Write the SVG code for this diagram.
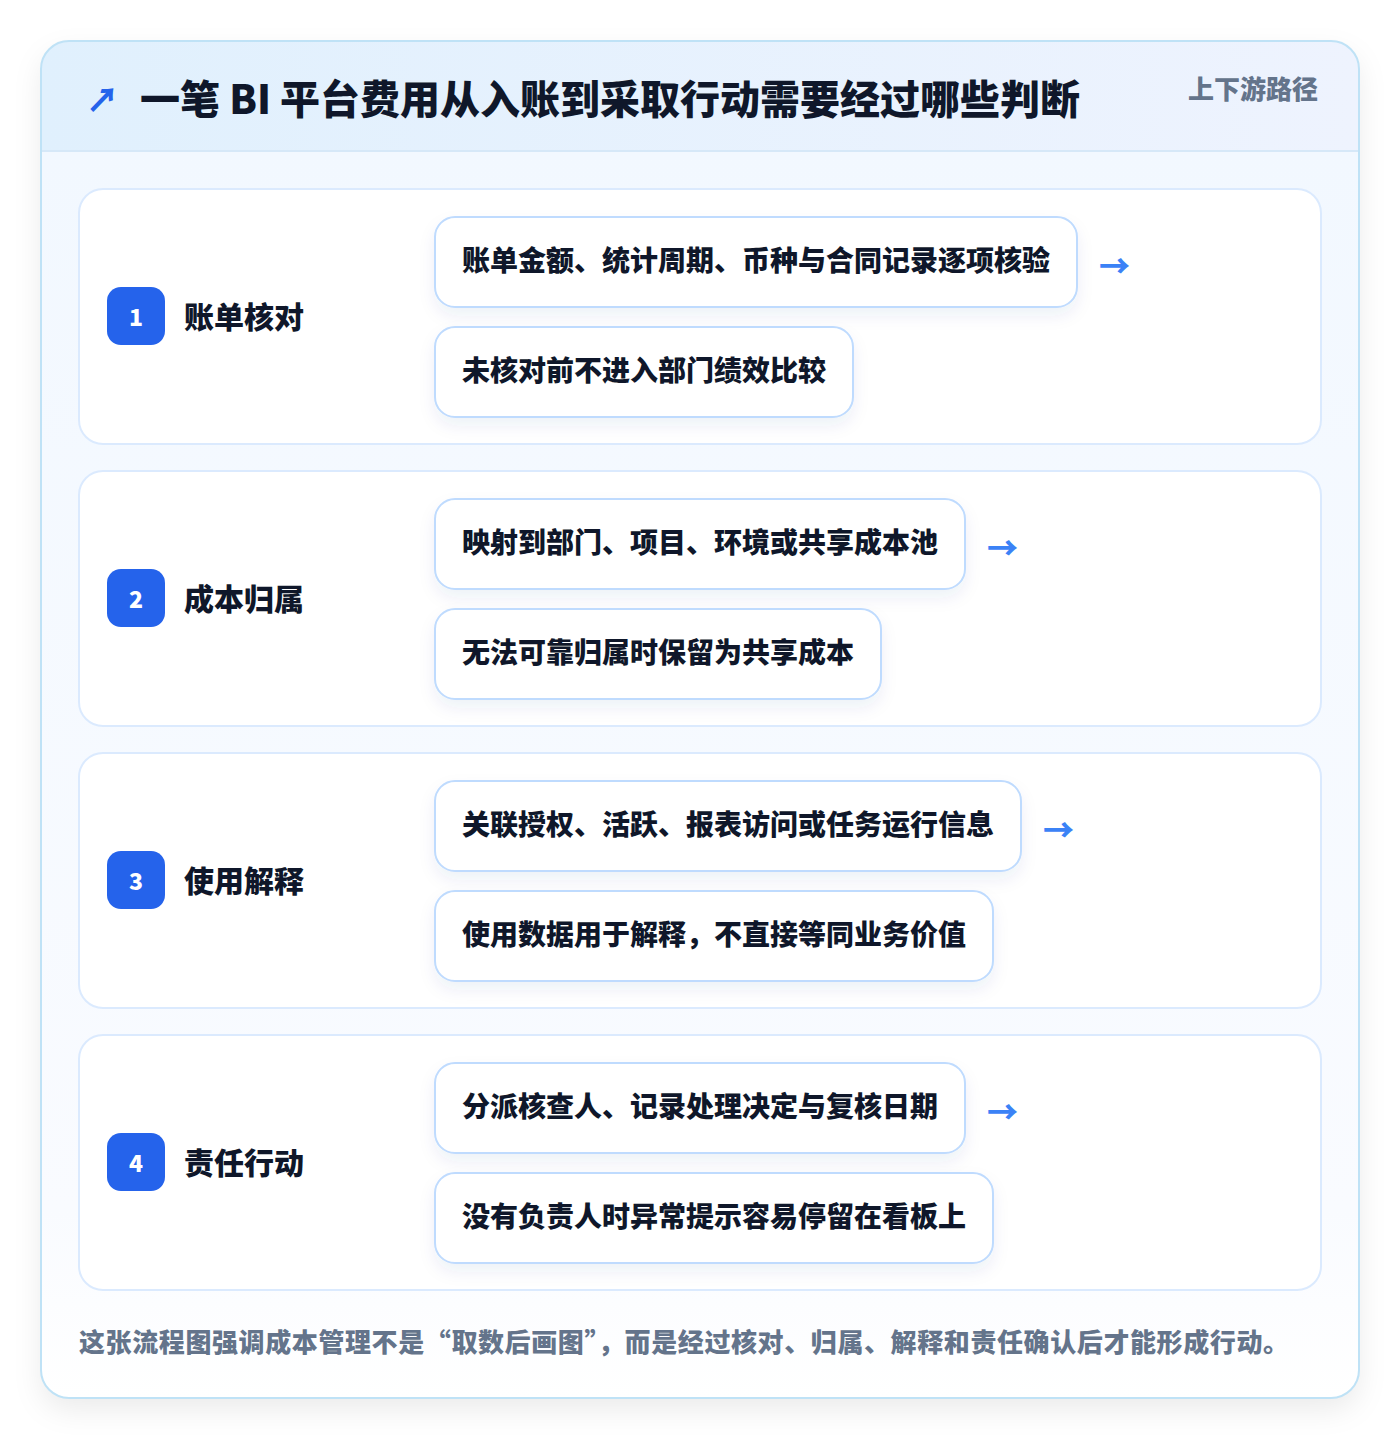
<svg xmlns="http://www.w3.org/2000/svg" width="1400" height="1440" viewBox="0 0 1400 1440">
<defs>
<linearGradient id="hdr" x1="0" y1="0" x2="1" y2="0"><stop offset="0" stop-color="#e0f0fd"/><stop offset="1" stop-color="#eef3fe"/></linearGradient>
<linearGradient id="body" x1="0" y1="0" x2="0" y2="1"><stop offset="0" stop-color="#f2f8ff"/><stop offset="0.85" stop-color="#f9fbff"/><stop offset="1" stop-color="#ffffff"/></linearGradient>
<filter id="outerSh" x="-10%" y="-10%" width="120%" height="120%"><feDropShadow dx="0" dy="12" stdDeviation="14" flood-color="#0f172a" flood-opacity="0.08"/></filter>
<filter id="boxSh" x="-10%" y="-30%" width="120%" height="170%"><feDropShadow dx="0" dy="8" stdDeviation="8" flood-color="#1e3a8a" flood-opacity="0.07"/></filter>
<clipPath id="outerClip"><rect x="41" y="41" width="1318" height="1357" rx="28"/></clipPath>
</defs>
<style>
.title{font-family:"Noto Sans CJK SC","Noto Sans",sans-serif;font-weight:900;font-size:40px;fill:#0f172a}
.tag{font-family:"Noto Sans CJK SC",sans-serif;font-weight:900;font-size:26px;fill:#64748b}
.stage{fill:#ffffff;stroke:#dbeafe;stroke-width:2}
.badge{fill:#2563eb}
.num{font-family:"Noto Sans CJK SC","Noto Sans",sans-serif;font-weight:900;font-size:23px;fill:#ffffff;text-anchor:middle}
.label{font-family:"Noto Sans CJK SC",sans-serif;font-weight:900;font-size:30px;fill:#0f172a}
.item{fill:#ffffff;stroke:#bfdbfe;stroke-width:2}
.itext{font-family:"Noto Sans CJK SC",sans-serif;font-weight:900;font-size:28px;fill:#0f172a}
.arrow{font-family:"Noto Sans CJK SC","DejaVu Sans",sans-serif;font-weight:900;font-size:31px;fill:#3b82f6}
.foot{font-family:"Noto Sans CJK SC",sans-serif;font-weight:900;font-size:26px;fill:#64748b;letter-spacing:0.6px}
</style>
<rect width="1400" height="1440" fill="#ffffff"/>
<g id="frame">
<rect x="41" y="41" width="1318" height="1357" rx="28" fill="#ffffff" filter="url(#outerSh)"/>
<g clip-path="url(#outerClip)">
<rect x="41" y="151" width="1318" height="1247" fill="url(#body)"/>
<rect x="41" y="41" width="1318" height="110" fill="url(#hdr)"/>
<line x1="41" y1="151" x2="1359" y2="151" stroke="#d6e8f8" stroke-width="2"/>
</g>
<rect x="41" y="41" width="1318" height="1357" rx="28" fill="none" stroke="#bfe2f6" stroke-width="2"/>
</g>
<g id="header">
<text x="86" y="112" class="arrow" style="font-size:33px;fill:#2563eb">↗</text>
<text x="140" y="114" class="title">一笔 BI 平台费用从入账到采取行动需要经过哪些判断</text>
<text x="1318" y="99" class="tag" text-anchor="end">上下游路径</text>
</g>
<g id="stage1">
<rect x="79" y="189" width="1242" height="255" rx="24" class="stage"/>
<rect x="107" y="287" width="58" height="58" rx="14" class="badge"/>
<text x="136" y="326" class="num">1</text>
<text x="184" y="328" class="label">账单核对</text>
<rect x="435" y="217" width="642" height="90" rx="20" class="item" filter="url(#boxSh)"/>
<text x="462" y="271" class="itext">账单金额、统计周期、币种与合同记录逐项核验</text>
<rect x="435" y="327" width="418" height="90" rx="20" class="item" filter="url(#boxSh)"/>
<text x="462" y="381" class="itext">未核对前不进入部门绩效比较</text>
</g>
<g id="stage2">
<rect x="79" y="471" width="1242" height="255" rx="24" class="stage"/>
<rect x="107" y="569" width="58" height="58" rx="14" class="badge"/>
<text x="136" y="608" class="num">2</text>
<text x="184" y="610" class="label">成本归属</text>
<rect x="435" y="499" width="530" height="90" rx="20" class="item" filter="url(#boxSh)"/>
<text x="462" y="553" class="itext">映射到部门、项目、环境或共享成本池</text>
<rect x="435" y="609" width="446" height="90" rx="20" class="item" filter="url(#boxSh)"/>
<text x="462" y="663" class="itext">无法可靠归属时保留为共享成本</text>
</g>
<g id="stage3">
<rect x="79" y="753" width="1242" height="255" rx="24" class="stage"/>
<rect x="107" y="851" width="58" height="58" rx="14" class="badge"/>
<text x="136" y="890" class="num">3</text>
<text x="184" y="892" class="label">使用解释</text>
<rect x="435" y="781" width="586" height="90" rx="20" class="item" filter="url(#boxSh)"/>
<text x="462" y="835" class="itext">关联授权、活跃、报表访问或任务运行信息</text>
<rect x="435" y="891" width="558" height="90" rx="20" class="item" filter="url(#boxSh)"/>
<text x="462" y="945" class="itext">使用数据用于解释，不直接等同业务价值</text>
</g>
<g id="stage4">
<rect x="79" y="1035" width="1242" height="255" rx="24" class="stage"/>
<rect x="107" y="1133" width="58" height="58" rx="14" class="badge"/>
<text x="136" y="1172" class="num">4</text>
<text x="184" y="1174" class="label">责任行动</text>
<rect x="435" y="1063" width="530" height="90" rx="20" class="item" filter="url(#boxSh)"/>
<text x="462" y="1117" class="itext">分派核查人、记录处理决定与复核日期</text>
<rect x="435" y="1173" width="558" height="90" rx="20" class="item" filter="url(#boxSh)"/>
<text x="462" y="1227" class="itext">没有负责人时异常提示容易停留在看板上</text>
</g>
<g id="connectors">
<text x="1099" y="277" class="arrow">→</text>
<text x="987" y="559" class="arrow">→</text>
<text x="1043" y="841" class="arrow">→</text>
<text x="987" y="1123" class="arrow">→</text>
</g>
<text x="79" y="1352" class="foot">这张流程图强调成本管理不是“取数后画图”，而是经过核对、归属、解释和责任确认后才能形成行动。</text>
</svg>
